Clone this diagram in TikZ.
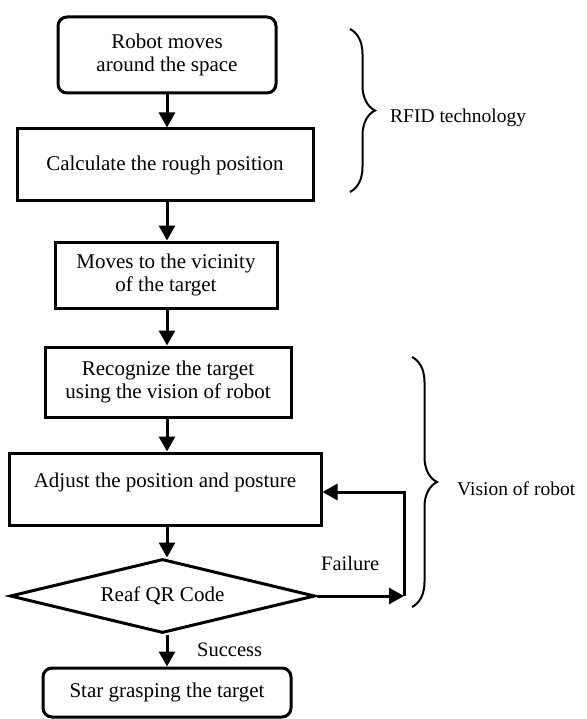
\documentclass[tikz,border=0pt]{standalone}
\usepackage{fontspec}
\setmainfont{Liberation Serif}
\usetikzlibrary{arrows.meta,shapes.geometric,decorations.pathreplacing}

\tikzset{
  stepbox/.style={draw, line width=3pt, align=center, inner sep=0pt,
    font=\fontsize{21}{23}\selectfont},
  roundbox/.style={stepbox, rounded corners=9pt},
  decision/.style={stepbox, diamond, aspect=4.1},
  flow/.style={line width=3pt, -{Triangle[length=15pt,width=16pt]}},
  bracket/.style={decorate, decoration={brace, amplitude=25pt}, line width=2pt},
  note/.style={font=\fontsize{20.5}{24}\selectfont, inner sep=0pt, anchor=base west},
  sidenote/.style={note, font=\fontsize{19.5}{23}\selectfont}
}

\begin{document}
\begin{tikzpicture}[x=1pt, y=-1pt]
  \useasboundingbox (0,0) rectangle (586,719);

  % process steps
  \node[roundbox, minimum width=218pt, minimum height=76pt] (b1) at (167,55)
    {Robot moves\\around the space};
  \node[stepbox, minimum width=296pt, minimum height=72pt] (b2) at (165,165)
    {Calculate the rough position};
  \node[stepbox, minimum width=222pt, minimum height=66pt] (b3) at (166,275)
    {Moves to the vicinity\\of the target};
  \node[stepbox, minimum width=246pt, minimum height=70pt] (b4) at (168,382)
    {Recognize the target\\using the vision of robot};
  \node[stepbox, minimum width=312pt, minimum height=72pt,
        text height=14pt, text depth=4pt] (b5) at (165,489)
    {\raisebox{7pt}{Adjust the position and posture}};
  \node[decision, minimum width=305pt, minimum height=74pt] (d) at (162.5,596)
    {Reaf QR Code};
  \node[roundbox, minimum width=248pt, minimum height=49pt] (b6) at (167,692.5)
    {Star grasping the target};

  % main flow
  \draw[flow] (b1.south -| 167,0) -- (b2.north -| 167,0);
  \draw[flow] (b2.south -| 167,0) -- (b3.north -| 167,0);
  \draw[flow] (b3.south -| 167,0) -- (b4.north -| 167,0);
  \draw[flow] (b4.south -| 167,0) -- (b5.north -| 167,0);
  \draw[flow] (b5.south -| 167,0) -- (d.north -| 167,0);
  \draw[flow] (d.south -| 167,0) -- (b6.north -| 167,0);

  % failure loop back to the adjustment step
  \coordinate (loop) at (404,492);
  \draw[flow] (d.east) -- (d.east -| loop);
  \draw[flow] (d.east -| loop) -- (loop) -- (b5.east |- loop);

  \node[note] (fail) at (321,570) {Failure};
  \node[note] (succ) at (197,656) {Success};

  % phase braces
  \coordinate (rtop) at (350,29);
  \coordinate (rbot) at (350,192);
  \draw[bracket] (rtop) -- (rbot);
  \node[sidenote] (rfid) at (390,123) {RFID technology};

  \coordinate (vtop) at (412,357);
  \coordinate (vbot) at (412,607);
  \draw[bracket] (vtop) -- (vbot);
  \node[sidenote] (vis) at (457,495) {Vision of robot};
\end{tikzpicture}
\end{document}
